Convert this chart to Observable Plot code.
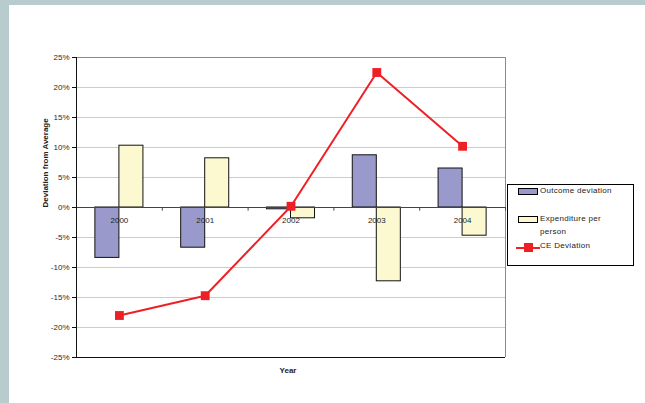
<!DOCTYPE html>
<html>
<head>
<meta charset="utf-8">
<script src="https://cdn.jsdelivr.net/npm/d3@7"></script>
<script src="https://cdn.jsdelivr.net/npm/@observablehq/plot@0.6"></script>
<style>
  html, body { margin: 0; padding: 0; background: #b9cccd; }
  #wrap { position: relative; width: 645px; height: 403px; overflow: hidden; }
  #paper { position: absolute; left: 9px; top: 5px; right: 0; bottom: 0; background: #fff; }
  #chart { position: absolute; left: 0; top: 0; }
  #chart svg { background: transparent !important; }
  #legend { position: absolute; left: 507px; top: 184px; width: 125px; height: 80px; border: 1px solid #000; background: #fff;
            font-family: "Liberation Sans", Arial, sans-serif; font-size: 8px; color: #222; letter-spacing: 0.3px; }
  .item { position: absolute; left: 10px; }
  .sw { position: absolute; left: 0; width: 18px; height: 5px; border: 1px solid #000; }
  .lbl { position: absolute; left: 22px; line-height: 12.5px; white-space: nowrap; }
</style>
</head>
<body>
<div id="wrap">
  <div id="paper"></div>
  <div id="chart"></div>
  <div id="legend"></div>
</div>
<script>
const years = ["2000", "2001", "2002", "2003", "2004"];
const outcomeDeviation = [-8.4, -6.7, -0.3, 8.7, 6.5];
const expenditurePerPerson = [10.3, 8.2, -1.8, -12.3, -4.7];
const ceDeviation = [-18.0, -14.7, 0.2, 22.5, 10.2];
const yTicks = [-25, -20, -15, -10, -5, 0, 5, 10, 15, 20, 25];
const seriesNames = ["Outcome deviation", "Expenditure per person", "CE Deviation"];
const colors = ["#9999cc", "#fcf9d0", "#ee2026"];

const rows = years.map((y, i) => ({
  i, year: y,
  outcome: outcomeDeviation[i],
  expenditure: expenditurePerPerson[i],
  ce: ceDeviation[i]
}));
const bounds = d3.range(years.length + 1).map(k => k - 0.5);
const barW = 0.28;
const font = "Liberation Sans, Arial, sans-serif";

const chart = Plot.plot({
  width: 645, height: 403,
  marginLeft: 76, marginRight: 140, marginTop: 57, marginBottom: 46,
  style: { fontFamily: font, fontSize: "8px", color: "#222", background: "transparent" },
  x: { type: "linear", domain: [-0.5, years.length - 0.5], axis: null },
  y: { domain: [-25, 25], axis: null },
  marks: [
    Plot.ruleY(yTicks.filter(t => t !== 25 && t !== -25 && t !== 0), { stroke: "#cccccc", strokeWidth: 1 }),
    Plot.ruleY([25], { stroke: "#8a8a8a" }),
    Plot.ruleX([years.length - 0.5], { stroke: "#8a8a8a" }),
    Plot.rectY(rows, { x1: d => d.i - barW, x2: d => d.i, y: "outcome", fill: colors[0], stroke: "#111", strokeWidth: 1 }),
    Plot.rectY(rows, { x1: d => d.i, x2: d => d.i + barW, y: "expenditure", fill: colors[1], stroke: "#111", strokeWidth: 1 }),
    Plot.ruleY([0], { stroke: "#444", strokeWidth: 1.2 }),
    Plot.ruleX(bounds, { y1: 0, y2: -0.6, stroke: "#444" }),
    Plot.ruleY([-25], { stroke: "#111" }),
    Plot.ruleX([-0.5], { stroke: "#111" }),
    Plot.axisY({ ticks: yTicks, tickFormat: d => d + "%", tickSize: 4, tickPadding: 3, fontSize: 8, label: null, stroke: "#111", fill: "#2a2a2a" }),
    Plot.text(rows, { x: "i", y: 0, text: "year", dy: 13, fontSize: 8, fill: "#222" }),
    Plot.line(rows, { x: "i", y: "ce", stroke: colors[2], strokeWidth: 2 }),
    Plot.dot(rows, { x: "i", y: "ce", symbol: "square", r: 5, fill: colors[2], stroke: "none" }),
    Plot.text(["Deviation from Average"], { frameAnchor: "left", dx: -31, rotate: -90, fontWeight: "bold", fontSize: 8, fill: "#222" }),
    Plot.text(["Year"], { frameAnchor: "bottom", dx: -3, dy: 15, fontWeight: "bold", fontSize: 8, fill: "#222" })
  ]
});
document.getElementById("chart").appendChild(chart);

const legend = document.getElementById("legend");
const items = [
  { top: 3, type: "bar", color: colors[0], text: seriesNames[0] },
  { top: 31, type: "bar", color: colors[1], text: "Expenditure per<br>person" },
  { top: 58, type: "line", color: colors[2], text: seriesNames[2] }
];
items.forEach(it => {
  const d = document.createElement("div");
  d.className = "item";
  d.style.top = it.top + "px";
  let sw;
  if (it.type === "bar") {
    sw = `<div class="sw" style="top:0px;background:${it.color}"></div>`;
  } else {
    sw = `<div style="position:absolute;left:-2px;top:4px;width:24px;height:2px;background:${it.color}"></div>` +
         `<div style="position:absolute;left:6px;top:0px;width:9px;height:9px;background:${it.color}"></div>`;
  }
  d.innerHTML = sw + `<div class="lbl" style="top:-3px">${it.text}</div>`;
  legend.appendChild(d);
});
</script>
</body>
</html>
